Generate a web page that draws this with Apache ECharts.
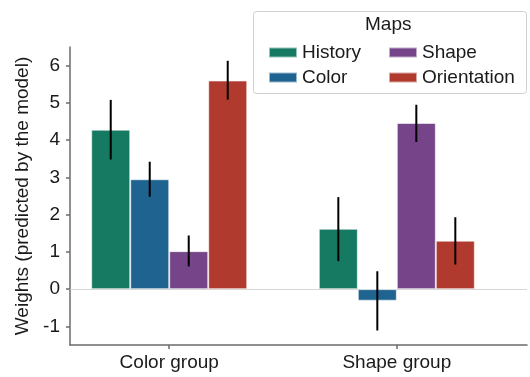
<!DOCTYPE html>
<html>
<head>
<meta charset="utf-8">
<script src="https://cdn.jsdelivr.net/npm/echarts@6/dist/echarts.min.js"></script>
<style>
  html, body { margin: 0; padding: 0; background: #fff; }
  #chart { width: 530px; height: 377px; }
</style>
</head>
<body>
<div id="chart"></div>
<script>
// Groups along the x axis
const groups = ['Color group', 'Shape group'];

// Map names and colours
const maps = ['History', 'Color', 'Shape', 'Orientation'];
const mapColors = ['#167a62', '#1f6390', '#754489', '#b03a2e'];

// Mean weights per map, one value per group
const historyVals = [4.28, 1.62];
const colorVals = [2.95, -0.31];
const shapeVals = [1.02, 4.46];
const orientationVals = [5.60, 1.30];

// Error bar ranges [low, high] per group
const historyErr = [[3.48, 5.08], [0.75, 2.47]];
const colorErr = [[2.48, 3.42], [-1.11, 0.48]];
const shapeErr = [[0.61, 1.44], [3.95, 4.95]];
const orientationErr = [[5.09, 6.13], [0.66, 1.93]];

// Y axis tick labels
const yTicks = [-1, 0, 1, 2, 3, 4, 5, 6];

const allVals = [historyVals, colorVals, shapeVals, orientationVals];
const allErr = [historyErr, colorErr, shapeErr, orientationErr];

const FONT = 'Liberation Sans, Arial, sans-serif';
const FS = 19;
const BAR_W = 39;

const chart = echarts.init(document.getElementById('chart'), null, { renderer: 'canvas' });

const barSeries = maps.map((name, i) => ({
  name: name,
  type: 'bar',
  barWidth: BAR_W,
  barGap: '0%',
  itemStyle: {
    color: mapColors[i],
    borderColor: 'rgba(255,255,255,0.55)',
    borderWidth: 1
  },
  emphasis: { disabled: true },
  data: allVals[i].map((v, g) => [g, v]),
  z: 2,
  markLine: i === 0 ? {
    silent: true,
    symbol: 'none',
    label: { show: false },
    lineStyle: { color: '#d6d6d6', width: 1.2, type: 'solid' },
    data: [{ yAxis: 0 }],
    z: 1
  } : undefined
}));

// Error bars, offset to the centre of each bar within its group
const errData = [];
allErr.forEach((errs, i) => {
  errs.forEach((e, g) => errData.push([g, e[0], e[1], i]));
});

const errSeries = {
  type: 'custom',
  silent: true,
  z: 5,
  data: errData,
  encode: { x: 0, y: [1, 2] },
  renderItem: function (params, api) {
    const g = api.value(0);
    const idx = api.value(3);
    const lo = api.coord([g, api.value(1)]);
    const hi = api.coord([g, api.value(2)]);
    const dx = (idx - (maps.length - 1) / 2) * BAR_W;
    return {
      type: 'line',
      shape: { x1: lo[0] + dx, y1: lo[1], x2: hi[0] + dx, y2: hi[1] },
      style: { stroke: '#000', lineWidth: 2 }
    };
  }
};

const legendBase = {
  orient: 'vertical',
  top: 38,
  itemWidth: 28,
  itemHeight: 10,
  itemGap: 6,
  icon: 'rect',
  selectedMode: false,
  z: 20,
  textStyle: { color: '#1a1a1a', fontFamily: FONT, fontSize: FS, lineHeight: 18, padding: [0, 0, 0, 0] }
};

const option = {
  animation: false,
  backgroundColor: '#fff',
  grid: { left: 70, right: 3, top: 47, bottom: 32, containLabel: false },
  xAxis: {
    type: 'value',
    min: -0.436,
    max: 1.572,
    splitLine: { show: false },
    axisLine: { show: true, onZero: false, lineStyle: { color: '#6b6b6b', width: 1.5 } },
    axisTick: { show: true, customValues: [0, 1], length: 4, lineStyle: { color: '#6b6b6b', width: 1.5 } },
    axisLabel: {
      customValues: [0, 1],
      formatter: v => groups[Math.round(v)],
      color: '#1a1a1a',
      fontFamily: FONT,
      fontSize: FS,
      margin: 8
    }
  },
  yAxis: {
    type: 'value',
    min: -1.5,
    max: 6.5,
    name: 'Weights (predicted by the model)',
    nameLocation: 'middle',
    nameGap: 38,
    nameTextStyle: { color: '#1a1a1a', fontFamily: FONT, fontSize: FS },
    splitLine: { show: false },
    axisLine: { show: true, onZero: false, lineStyle: { color: '#6b6b6b', width: 1.5 } },
    axisTick: { show: true, customValues: yTicks, length: 4, lineStyle: { color: '#6b6b6b', width: 1.5 } },
    axisLabel: {
      customValues: yTicks,
      color: '#1a1a1a',
      fontFamily: FONT,
      fontSize: FS,
      margin: 10
    }
  },
  legend: [
    Object.assign({}, legendBase, { data: ['History', 'Color'], left: 263 }),
    Object.assign({}, legendBase, { data: ['Shape', 'Orientation'], left: 383 })
  ],
  graphic: [
    {
      type: 'rect',
      left: 253,
      top: 11,
      shape: { width: 273, height: 82, r: 3 },
      style: { fill: '#ffffff', stroke: '#d0d0d0', lineWidth: 1 },
      z: 10
    },
    {
      type: 'text',
      left: 365,
      top: 15,
      style: { text: 'Maps', fill: '#1a1a1a', font: FS + 'px ' + FONT },
      z: 11
    }
  ],
  series: barSeries.concat([errSeries])
};

chart.setOption(option);
</script>
</body>
</html>
